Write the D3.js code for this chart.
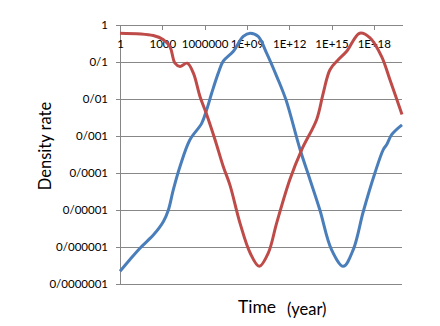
<!DOCTYPE html>
<html>
<head>
<meta charset="utf-8">
<script src="https://cdn.jsdelivr.net/npm/d3@7"></script>
<style>
  html, body { margin: 0; padding: 0; background: #fff; }
  svg { display: block; }
  text { font-family: Lato, "Open Sans", sans-serif; fill: #000; }
</style>
</head>
<body>
<svg id="chart" width="440" height="326"></svg>
<script>
// ---- data ----
const xTickValues = [1, 1e3, 1e6, 1e9, 1e12, 1e15, 1e18];
const xTickLabels = ["1", "1000", "1000000", "1E+09", "1E+12", "1E+15", "1E+18"];
const yTickValues = [1, 1e-1, 1e-2, 1e-3, 1e-4, 1e-5, 1e-6, 1e-7];
const yTickLabels = ["1", "0/1", "0/01", "0/001", "0/0001", "0/00001", "0/000001", "0/0000001"];

const redTime = [1, 2.3e2, 1.2e3, 3.5e3, 7.9e3, 1.8e4, 5.9e4, 1.6e5, 4.7e5, 1.4e6, 5.5e6, 2.1e7, 6.3e7,
  3.2e8, 1.7e9, 7.6e9, 3.3e10, 1.3e11, 1.1e12, 7.8e12, 8.9e13, 2.6e14, 7.8e14, 3.0e15, 1.2e16,
  1.0e17, 5.4e17, 3.6e18, 1.4e19, 1e20];
const redDensity = [0.60, 0.52, 0.40, 0.26, 0.093, 0.076, 0.093, 0.050, 0.0117, 0.0038, 7.9e-4, 1.5e-4, 4.7e-5,
  4.5e-6, 6.9e-7, 3.0e-7, 6.9e-7, 4.5e-6, 6.6e-5, 4.3e-4, 2.8e-3, 0.0145, 0.062, 0.115, 0.195,
  0.60, 0.45, 0.14, 0.033, 0.0038];

const blueTime = [1, 5.1, 26, 2.3e2, 1.2e3, 2.7e3, 6.0e3, 1.8e4, 9.1e4, 6.2e5, 1.4e6, 3.2e6, 9.3e6, 2.1e7,
  1.1e8, 5.5e8, 1.7e9, 6.3e9, 2.5e10, 1.3e11, 5.9e11, 5.9e12, 3.0e13, 1.5e14, 1.0e15, 6.9e15,
  3.5e16, 1.8e17, 1.2e18, 4.7e18, 8.1e18, 1.9e19, 1e20];
const blueDensity = [2.2e-7, 4.6e-7, 9.3e-7, 2.1e-6, 4.9e-6, 1.0e-5, 3.5e-5, 1.5e-4, 7.9e-4, 2.2e-3, 5.1e-3, 0.0145, 0.050, 0.105,
  0.195, 0.49, 0.60, 0.49, 0.174, 0.041, 0.0095, 4.3e-4, 6.6e-5, 1.0e-5, 8.5e-7, 3.0e-7,
  8.5e-7, 9.1e-6, 1.0e-4, 4.3e-4, 5.8e-4, 1.1e-3, 2.0e-3];

// ---- layout ----
const svg = d3.select("#chart");
const plotLeft = 120, plotRight = 402, plotTop = 25, plotBottom = 284;
const gridColor = "#878787";

const x = d3.scaleLog().domain([1, 1e20]).range([plotLeft, plotRight]);
const y = d3.scaleLog().domain([1e-7, 1]).range([plotBottom, plotTop]);

// horizontal gridlines
svg.append("g").selectAll("line")
  .data(yTickValues)
  .join("line")
  .attr("x1", plotLeft).attr("x2", plotRight)
  .attr("y1", d => y(d)).attr("y2", d => y(d))
  .attr("stroke", gridColor).attr("stroke-width", 1)
  .attr("shape-rendering", "crispEdges");

// y axis
const yAxis = svg.append("g")
  .attr("transform", `translate(${plotLeft},0)`)
  .call(d3.axisLeft(y).tickValues(yTickValues)
    .tickFormat((d, i) => yTickLabels[i])
    .tickSize(4).tickSizeOuter(0).tickPadding(8));
yAxis.select(".domain").attr("stroke", gridColor).attr("shape-rendering", "crispEdges");
yAxis.selectAll(".tick line").attr("stroke", gridColor).attr("shape-rendering", "crispEdges");
yAxis.selectAll("text").attr("font-size", 11.5).attr("font-family", "Lato, sans-serif").attr("fill", "#000");

// x axis (at the top, crossing at y = 1)
const xAxis = svg.append("g")
  .attr("transform", `translate(0,${plotTop})`)
  .call(d3.axisBottom(x).tickValues(xTickValues)
    .tickFormat((d, i) => xTickLabels[i])
    .tickSize(5).tickSizeOuter(0).tickPadding(10));
xAxis.select(".domain").attr("stroke", gridColor).attr("shape-rendering", "crispEdges");
xAxis.selectAll(".tick line").attr("stroke", gridColor).attr("shape-rendering", "crispEdges");
xAxis.selectAll("text").attr("font-size", 11.5).attr("font-family", "Lato, sans-serif").attr("fill", "#000");

// curves
const line = d3.line()
  .x(d => x(d[0]))
  .y(d => y(d[1]))
  .curve(d3.curveCatmullRom.alpha(0.5));

svg.append("path")
  .datum(d3.zip(blueTime, blueDensity))
  .attr("d", line)
  .attr("fill", "none")
  .attr("stroke", "#4A7EBB")
  .attr("stroke-width", 3)
  .attr("stroke-linejoin", "round");

svg.append("path")
  .datum(d3.zip(redTime, redDensity))
  .attr("d", line)
  .attr("fill", "none")
  .attr("stroke", "#BE4B48")
  .attr("stroke-width", 3)
  .attr("stroke-linejoin", "round");

// axis titles
svg.append("text")
  .attr("transform", "translate(51,146) rotate(-90)")
  .attr("text-anchor", "middle")
  .attr("font-size", 16.5)
  .text("Density rate");

svg.append("text")
  .attr("x", 238).attr("y", 313)
  .attr("font-size", 17.5)
  .text("Time");

svg.append("text")
  .attr("x", 287).attr("y", 315)
  .attr("font-size", 16.5)
  .text("(year)");
</script>
</body>
</html>
